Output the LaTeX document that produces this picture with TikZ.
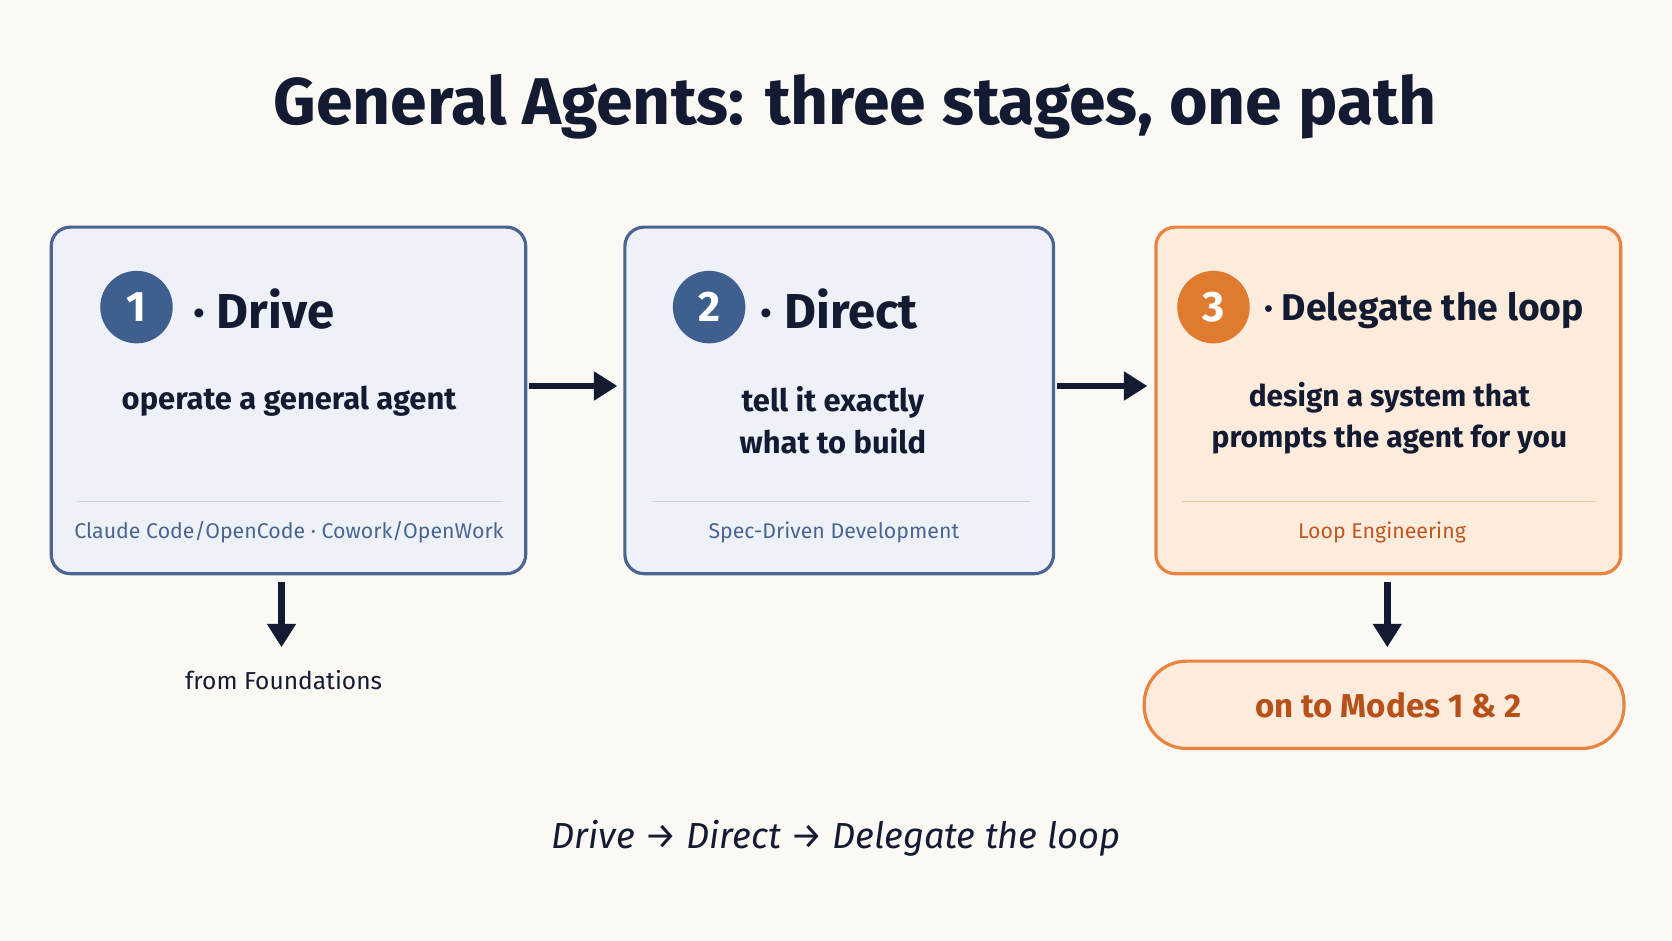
\documentclass[tikz,border=0pt]{standalone}
\usepackage{fontspec}
\setmainfont{Fira Sans}
\usetikzlibrary{arrows.meta}
\definecolor{bg}{HTML}{FCF9F4}
\definecolor{navy}{HTML}{131B33}
\definecolor{bluefill}{HTML}{EEF2F8}
\definecolor{blueline}{HTML}{4A6591}
\definecolor{bluedot}{HTML}{3F5F8F}
\definecolor{orfill}{HTML}{FDEBDC}
\definecolor{orline}{HTML}{E8843F}
\definecolor{ordot}{HTML}{E07A2E}
\definecolor{ortext}{HTML}{B8501A}
\definecolor{sep}{HTML}{C9D3E2}
\definecolor{sepo}{HTML}{F2C9A8}
\tikzset{
  box/.style={draw=blueline,fill=bluefill,line width=3pt,rounded corners=18pt},
  obox/.style={draw=orline,fill=orfill,line width=3pt,rounded corners=18pt},
  dot/.style={circle,fill=bluedot,minimum size=68pt,inner sep=0pt,text=white,font=\fontsize{40}{48}\selectfont\bfseries},
  head/.style={anchor=west,text=navy,font=\fontsize{46}{54}\selectfont\bfseries},
  sub/.style={text=navy,align=center,font=\fontsize{29}{40}\selectfont\fontseries{sb}\selectfont},
  foot/.style={text=blueline,font=\fontsize{20}{24}\selectfont},
  arr/.style={-{Triangle[length=22pt,width=26pt]},line width=6pt,draw=navy},
  x=1pt,y=-1pt}
\begin{document}
\begin{tikzpicture}
\fill[bg] (0,0) rectangle (1568,882);
\useasboundingbox (0,0) rectangle (1568,882);
\node[text=navy,font=\fontsize{62}{70}\selectfont\bfseries] (title) at (802,100) {General Agents: three stages, one path};
% boxes
\draw[box] (48,213) rectangle (493,538);
\draw[box] (586,213) rectangle (988,538);
\draw[obox] (1084,213) rectangle (1520,538);
\coordinate (b1e) at (496,362);
\coordinate (b2w) at (579,362); \coordinate (b2e) at (991,362);
\coordinate (b3w) at (1076,362);
\draw[sep,line width=1.2pt] (72,470) -- (472,470);
\draw[sep,line width=1.2pt] (611,470) -- (966,470);
\draw[sepo,line width=1.2pt] (1108,470) -- (1497,470);
% heads
\node[dot] (d1) at (128,288) {1};
\node[head] (h1) at (178,290) {· Drive};
\node[dot] (d2) at (665,288) {2};
\node[head] (h2) at (710,290) {· Direct};
\node[dot,fill=ordot] (d3) at (1138,288) {3};
\node[head,font=\fontsize{35}{42}\selectfont\bfseries] (h3) at (1182,291) {· Delegate the loop};
\node[sub] (s1) at (271,376) {operate a general agent};
\node[sub] (s2) at (781,394) {tell it exactly\\what to build};
\node[sub,font=\fontsize{28}{39}\selectfont\fontseries{sb}\selectfont] (s3) at (1303,392) {design a system that\\prompts the agent for you};
\node[foot] (f1) at (271,499) {Claude Code/OpenCode · Cowork/OpenWork};
\node[foot] (f2) at (782,499) {Spec-Driven Development};
\node[foot,text=ortext!85!orline] (f3) at (1296,499) {Loop Engineering};
% arrows between boxes
\draw[arr] (b1e) -- (b2w);
\draw[arr] (b2e) -- (b3w);
% down arrows
\coordinate (d1a) at (264,546); \coordinate (d1b) at (264,607);
\coordinate (d3a) at (1301,546); \coordinate (d3b) at (1301,607);
\draw[arr] (d1a) -- (d1b);
\draw[arr] (d3a) -- (d3b);
\node[text=navy,font=\fontsize{23}{28}\selectfont] (fromf) at (266,638) {from Foundations};
\draw[obox,rounded corners=40pt] (1073,620) rectangle (1523,702);
\node[text=ortext,font=\fontsize{31}{36}\selectfont\bfseries] (modes) at (1302,661) {on to Modes 1 \& 2};
\node[text=navy,font=\fontsize{34}{40}\selectfont\itshape] (path) at (784,786) {Drive {\upshape →} Direct {\upshape →} Delegate the loop};
\end{tikzpicture}
\end{document}
